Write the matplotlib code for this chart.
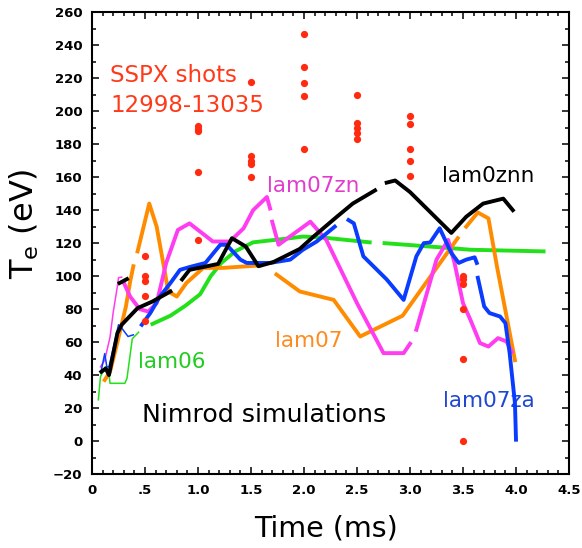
import numpy as np
import matplotlib
matplotlib.use('Agg')
import matplotlib.pyplot as plt
from matplotlib.ticker import MultipleLocator, FixedLocator, FixedFormatter

nan = np.nan

# ---------------- data ----------------
# SSPX measured points
sspx_time = [0.5, 0.5, 0.5, 0.5, 0.5,
             1.0, 1.0, 1.0, 1.0, 1.0,
             1.5, 1.5, 1.5, 1.5, 1.5,
             2.0, 2.0, 2.0, 2.0, 2.0,
             2.5, 2.5, 2.5, 2.5, 2.5,
             3.0, 3.0, 3.0, 3.0, 3.0,
             3.5, 3.5, 3.5, 3.5, 3.5, 3.5]
sspx_te = [112, 100, 97, 88, 73,
           191, 189, 188, 163, 122,
           218, 173, 170, 168, 160,
           247, 227, 217, 209, 177,
           210, 193, 190, 187, 183,
           197, 192, 177, 170, 161,
           100, 98, 95, 80, 50, 0]

# lam06 (green)
lam06_thin_t = [0.06, 0.08, 0.126, 0.16, 0.17, 0.31, 0.33, 0.38, 0.44]
lam06_thin_te = [25, 39, 45, 41, 35, 35, 38, 62, 66]
lam06_t = [0.57, 0.74, 0.88, 1.02, 1.12, 1.22, 1.35, 1.52, 1.87, 1.99, 2.18, 2.62,
           nan, 2.76, 3.38, 3.57, 4.26]
lam06_te = [71, 76, 82, 89, 100, 108, 115, 120.5, 123, 124, 123.4, 120.5,
            nan, 120, 117, 116, 115]

# lam07zn (magenta)
lam07zn_thin_t = [0.08, 0.12, 0.17, 0.20, 0.24, 0.25, 0.28]
lam07zn_thin_te = [45, 49, 63, 78, 94, 99, 99.4]
lam07zn_t = [0.30, 0.36, 0.45, 0.53, 0.61, 0.70, 0.81, 0.92, 1.02, 1.14, 1.30, 1.43,
             1.52, 1.65, 1.68, nan, 1.70, 1.76, 2.06, 2.21, 2.50, 2.75, 2.94, 3.00,
             nan, 3.06, 3.25, 3.36, 3.42, 3.50, 3.57, 3.66, 3.74, 3.83, 3.91, 3.96]
lam07zn_te = [96, 87.6, 80, 78.5, 83.6, 108, 128, 132, 127, 121, 121, 129,
              140, 148, 141, nan, 133, 119, 133, 122, 83.6, 53.3, 53.3, 59,
              nan, 67.5, 110, 122, 108, 83.6, 73.5, 59.4, 57.3, 62.4, 60.4, 54]

# lam07za (blue)
lam07za_thin_t = [0.088, 0.12, 0.14, 0.16, 0.25, 0.28, 0.34, 0.39]
lam07za_thin_te = [43, 53, 45, 45, 70.5, 68.5, 63.4, 64.4]
lam07za_t = [0.47, 0.55, 0.64, 0.74, 0.83, 0.92, 1.07, 1.21, 1.27, 1.40, 1.46, 1.68,
             1.87, 1.99, 2.12, 2.29, nan, 2.42, 2.47, 2.56, 2.78, 2.94, 3.06, 3.13,
             3.19, 3.28, 3.39, 3.46, 3.53, 3.61, 3.63, nan, 3.64, 3.70, 3.75, 3.85,
             3.90, 3.94, 3.99, 4.00]
lam07za_te = [70.5, 77.6, 87.6, 95.8, 103.8, 105.5, 108, 119, 119, 110, 108, 108,
              110, 116, 121, 130, nan, 134, 132, 112, 98, 85.6, 112, 120,
              120.4, 129, 114, 108, 110, 111.4, 108, nan, 99, 81.6, 77.6, 75.5,
              71.5, 53.3, 23, 0.8]

# lam0znn (black)
lam0znn_dash_t = [0.26, 0.33]
lam0znn_dash_te = [95.8, 98.2]
lam0znn_t = [0.088, 0.13, 0.16, 0.24, 0.28, 0.43, 0.57, 0.74, nan, 0.85, 0.92, 1.19,
             1.32, 1.45, 1.57, 1.71, 1.96, 2.09, 2.31, 2.46, 2.67, nan, 2.78, 2.86,
             3.00, 3.39, 3.53, 3.69, 3.88, 3.97]
lam0znn_te = [42, 44, 40, 65.5, 70.5, 80.6, 84.6, 90.7, nan, 98, 103.8, 107.4,
              123, 118, 106, 108.5, 116.5, 124, 136, 144, 152, nan, 156.7, 158,
              151, 126.2, 136, 144, 147, 140]

# lam07 (orange)
lam07_t = [0.12, 0.17, 0.24, 0.32, 0.36, 0.39, nan, 0.43, 0.54, 0.61, 0.72, 0.80,
           0.89, 1.05, 1.24, 1.58, nan, 1.74, 1.96, 2.28, 2.53, 2.93, 3.45, nan,
           3.53, 3.64, 3.74, 3.82, 3.99]
lam07_te = [37, 42, 60, 81.6, 96.7, 106, nan, 115, 144, 130, 90.7, 87.6,
            95.8, 105, 105, 106.5, nan, 101, 90.7, 85.6, 63.4, 76, 123, nan,
            130, 138.6, 135, 106, 49]

x_ticks = [0, 0.5, 1.0, 1.5, 2.0, 2.5, 3.0, 3.5, 4.0, 4.5]
x_ticklabels = ['0', '.5', '1.0', '1.5', '2.0', '2.5', '3.0', '3.5', '4.0', '4.5']
y_ticks = list(range(-20, 261, 20))

# ---------------- style ----------------
C_ORANGE = '#ff8c00'
C_MAGENTA = '#ff3cf0'
C_BLUE = '#0a3cff'
C_GREEN = '#22e01a'
C_RED = '#ff2a10'
THICK = 2.8
THIN = 1.1

fig = plt.figure(figsize=(5.82, 5.48), dpi=100)
ax = fig.add_axes([92 / 582, 1 - 474 / 548, 477 / 582, 461.7 / 548])

ax.plot(lam06_thin_t, lam06_thin_te, color=C_GREEN, lw=THIN, zorder=2)
ax.plot(lam06_t, lam06_te, color=C_GREEN, lw=THICK, zorder=2)
ax.plot(lam07_t, lam07_te, color=C_ORANGE, lw=THICK, zorder=3)
ax.plot(lam07zn_thin_t, lam07zn_thin_te, color=C_MAGENTA, lw=THIN, zorder=3)
ax.plot(lam07zn_t, lam07zn_te, color=C_MAGENTA, lw=THICK, zorder=3)
ax.plot(lam07za_thin_t, lam07za_thin_te, color=C_BLUE, lw=THIN, zorder=4)
ax.plot(lam07za_t, lam07za_te, color=C_BLUE, lw=THICK, zorder=4)
ax.plot(lam0znn_dash_t, lam0znn_dash_te, color='black', lw=THICK, zorder=5)
ax.plot(lam0znn_t, lam0znn_te, color='black', lw=THICK, zorder=5)
ax.plot(sspx_time, sspx_te, 'o', color=C_RED, ms=5.2, mec='none', zorder=6)

ax.set_xlim(0, 4.5)
ax.set_ylim(-20, 260)

ax.xaxis.set_major_locator(FixedLocator(x_ticks))
ax.xaxis.set_major_formatter(FixedFormatter(x_ticklabels))
ax.xaxis.set_minor_locator(MultipleLocator(0.1))
ax.yaxis.set_major_locator(FixedLocator(y_ticks))
ax.yaxis.set_minor_locator(MultipleLocator(10))

ax.tick_params(which='both', direction='in', top=True, right=True, width=1.1,
               color='black')
ax.tick_params(which='major', length=5)
ax.tick_params(which='minor', length=3)
ax.tick_params(axis='y', which='major', pad=7)
ax.tick_params(axis='x', which='major', pad=7)
for lab in ax.get_xticklabels() + ax.get_yticklabels():
    lab.set_fontsize(9.5)
    lab.set_fontweight('bold')
for sp in ax.spines.values():
    sp.set_linewidth(1.5)

# annotations
ax.text(0.0377, 0.849, 'SSPX shots', transform=ax.transAxes, color='#ff3a1a',
        fontsize=16.5, va='baseline', ha='left')
ax.text(0.0377, 0.784, '12998-13035', transform=ax.transAxes, color='#ff3a1a',
        fontsize=16.5, va='baseline', ha='left')
ax.text(0.366, 0.611, 'lam07zn', transform=ax.transAxes, color='#e23ccf',
        fontsize=15.5, va='baseline', ha='left')
ax.text(0.734, 0.633, 'lam0znn', transform=ax.transAxes, color='black',
        fontsize=15.5, va='baseline', ha='left')
ax.text(0.384, 0.2756, 'lam07', transform=ax.transAxes, color='#ff8a1e',
        fontsize=15.5, va='baseline', ha='left')
ax.text(0.0964, 0.229, 'lam06', transform=ax.transAxes, color='#1fcc1f',
        fontsize=15.5, va='baseline', ha='left')
ax.text(0.736, 0.145, 'lam07za', transform=ax.transAxes, color='#1f48d0',
        fontsize=15.5, va='baseline', ha='left')
ax.text(0.104, 0.113, 'Nimrod simulations', transform=ax.transAxes, color='black',
        fontsize=18.2, va='baseline', ha='left')

fig.text(24 / 582, 1 - 224 / 548, r'T$_\mathregular{e}$ (eV)', rotation=90,
         ha='center', va='center', fontsize=23)
fig.text(326 / 582, 1 - 537 / 548, 'Time (ms)', ha='center', va='baseline',
         fontsize=20.5)

fig.savefig('out.png', dpi=100)
